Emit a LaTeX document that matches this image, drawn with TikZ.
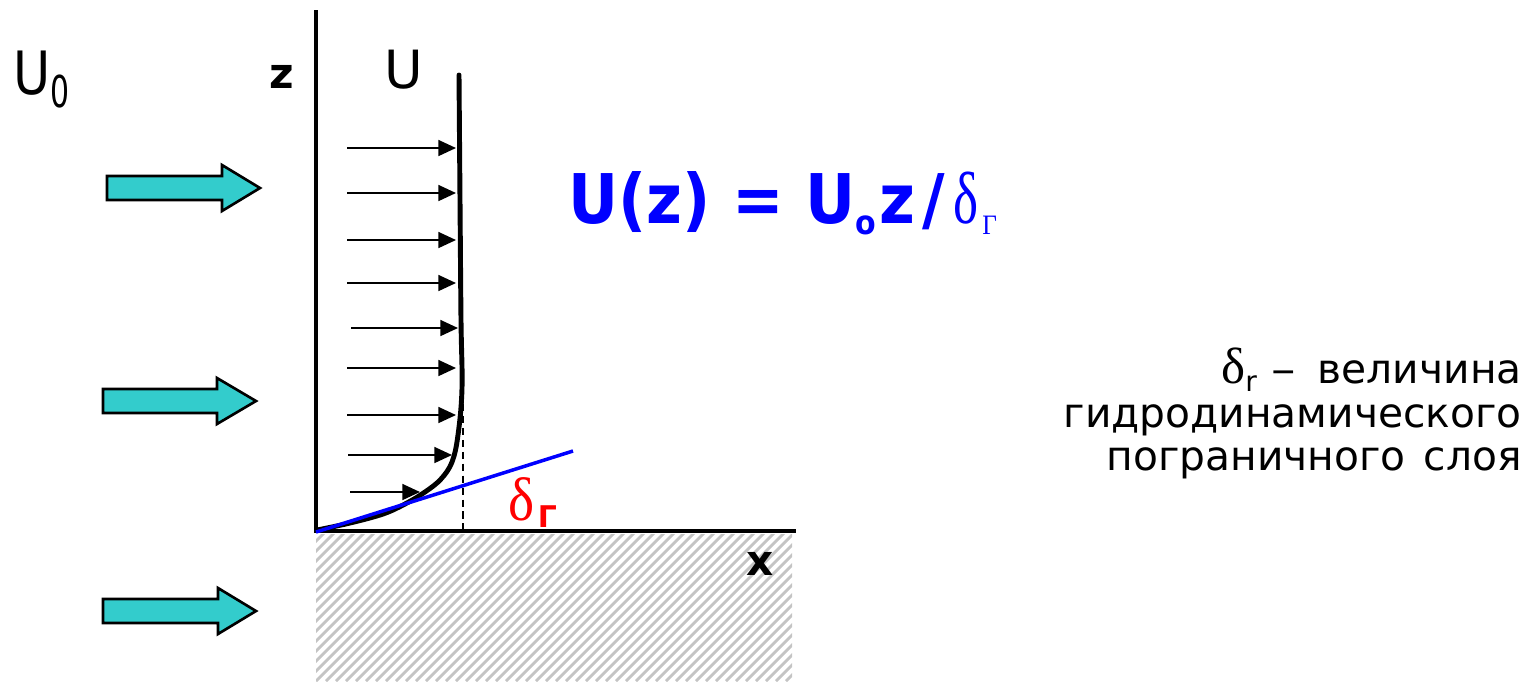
\documentclass[tikz,border=0pt]{standalone}
\usepackage{graphicx}
\usepackage{fontspec}
\setmainfont{DejaVu Sans}
\newfontfamily\grkfont{Liberation Serif}
\usepackage{tikz}
\usetikzlibrary{arrows.meta, positioning}
\definecolor{flowcyan}{HTML}{33CCCC}
\definecolor{formulablue}{HTML}{0000FF}
\definecolor{hatchgray}{HTML}{C4C4C4}
\definecolor{deltared}{HTML}{FF0000}
\tikzset{
    axisline/.style={line width=2.1pt, color=black},
    profileline/.style={line width=2.8pt, line join=round, line cap=round},
    velarrow/.style={-{Triangle[length=10pt, width=9pt]}, line width=1.1pt},
    flowarrow/.style={draw=black, fill=flowcyan, line width=1.5pt, line join=miter},
    hatchline/.style={draw=hatchgray, line width=1.6pt},
    tangentline/.style={draw=formulablue, line width=2pt},
    dashline/.style={dash pattern=on 4pt off 2.8pt, line width=1.1pt},
    axislab/.style={font=\fontsize{24}{26}\selectfont\bfseries, inner sep=0pt, anchor=base west},
    sidetext/.style={font=\fontsize{23.2}{25}\selectfont, inner sep=0pt, anchor=base east},
}

\begin{document}
\begin{tikzpicture}[x=0.02cm, y=-0.02cm]
    \useasboundingbox (0,0) rectangle (1537,681);

    % Wall: hatched ground
    \begin{scope}
        \clip (316,534) rectangle (792,681);
        \foreach \k in {0,...,66}
            \draw[hatchline] ({316+\k*10-160},681) -- ++(160,-160);
    \end{scope}

    % Axes
    \coordinate (origin) at (316,531);
    \coordinate (ztop) at (316,10);
    \coordinate (xend) at (796,531);
    \draw[axisline] (ztop) -- (origin) -- (xend);

    % Incoming flow
    \foreach \lx/\hx/\tx/\cy in {107/222/260/188, 103/217/256/401, 103/218/256/611}
        \draw[flowarrow] (\lx,\cy-12) -- (\hx,\cy-12) -- (\hx,\cy-23) -- (\tx,\cy)
            -- (\hx,\cy+23) -- (\hx,\cy+12) -- (\lx,\cy+12) -- cycle;

    % Velocity vectors
    \foreach \sx/\ex/\yy [count=\i] in {347/456/148, 347/456/193, 347/456/240, 347/456/283,
            351/458/328, 347/456/368, 347/456/415, 348/452/455, 350/420/492} {
        \coordinate (vs\i) at (\sx,\yy);
        \coordinate (ve\i) at (\ex,\yy);
        \draw[velarrow] (vs\i) -- (ve\i);
    }

    % Velocity profile
    \draw[profileline] plot[smooth, tension=0.6] coordinates {(459,75) (460,200) (461,320)
        (462,388) (458,435) (452,462) (441,479) (425,492) (405,504) (383,514) (350,523) (317,530)};

    % Layer thickness
    \coordinate (dtop) at (463,392);
    \coordinate (dbot) at (463,531);
    \draw[dashline] (dtop) -- (dbot);
    \coordinate (tstart) at (316,532);
    \coordinate (tend) at (573,451);
    \draw[tangentline] (tstart) -- (tend);

    % Labels
    \node[anchor=base west, inner sep=0pt, font=\fontsize{34}{36}\selectfont] (uzero) at (13,94)
        {\scalebox{0.85}[1]{U}\raisebox{-7.4pt}{\fontsize{25}{26}\selectfont\scalebox{0.68}[1]{0}}};
    \node[axislab] (zlab) at (269,88) {z};
    \node[anchor=base west, inner sep=0pt, font=\fontsize{30}{32}\selectfont] (ulab) at (384,88) {U};
    \node[axislab] (xlab) at (746,575) {x};
    \node[anchor=base west, inner sep=0pt, text=deltared] (deltalab) at (508,520)
        {\grkfont\fontsize{35}{36}\selectfont\scalebox{0.9}[1]{δ}\hspace{2pt}\raisebox{-4.5pt}{\rmfamily\bfseries\fontsize{17}{18}\selectfont Г}};

    % Formula
    \node[anchor=base west, inner sep=0pt, text=formulablue, font=\fontsize{39}{40}\selectfont\bfseries] (formula) at (568,223)
        {\scalebox{0.9}[1]{U(z) = U\raisebox{-6.8pt}{\fontsize{19}{20}\selectfont o}\hspace{2pt}z\hspace{5pt}/\hspace{5pt}{\grkfont\mdseries\fontsize{42}{44}\selectfont\scalebox{0.8}[1]{δ}}\raisebox{-6.8pt}{\grkfont\mdseries\fontsize{16}{17}\selectfont\hspace{2.5pt}Г}}};

    % Side note
    \node[sidetext] (note1) at (1522,383)
        {{\grkfont\fontsize{29}{30}\selectfont δ}\raisebox{-4.8pt}{\fontsize{16}{17}\selectfont r}\hspace{1pt} \scalebox{1.2}[1]{–}\hspace{5pt} величина};
    \node[sidetext] (note2) at (1522,427) {гидродинамического};
    \node[sidetext] (note3) at (1522,470) {пограничного\hspace{3pt} слоя};

\end{tikzpicture}
\end{document}
